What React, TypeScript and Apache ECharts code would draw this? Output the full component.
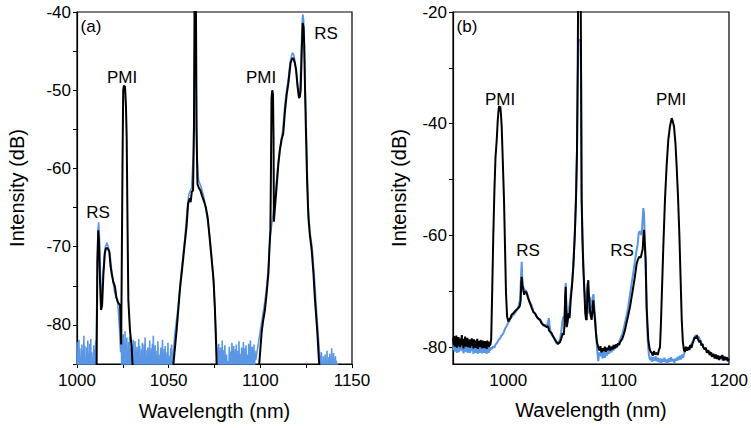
import React, { useEffect, useRef } from "react";
import * as echarts from "echarts";

const FONT = '"Liberation Sans", Arial, sans-serif';
const BLUE = "#5A96E6";
const BLACK = "#000000";

// ---------- axes ----------
const A_X_LABELS = [1000, 1050, 1100, 1150];
const A_X_TICKS = [1000, 1025, 1050, 1075, 1100, 1125, 1150];
const A_Y_LABELS = [-80, -70, -60, -50, -40];
const A_Y_TICKS = [-85, -80, -75, -70, -65, -60, -55, -50, -45, -40];
const B_X_LABELS = [1000, 1100, 1200];
const B_Y_LABELS = [-80, -60, -40, -20];
const B_Y_TICKS = [-80, -70, -60, -50, -40, -30, -20];

// ---------- panel (a) ----------
const A_BLACK = [
  [1010.2, -90], [1010.7, -85], [1011.1, -72], [1011.6, -67.9], [1012, -69.5], [1012.5, -74], [1013.1, -78.1],
  [1013.7, -77.5], [1014.4, -73.5], [1015.2, -70.8], [1015.8, -70.2], [1016.7, -70.2], [1017.6, -70.6],
  [1018.3, -72.5], [1018.9, -73.4], [1019.8, -74.5], [1020.7, -75.1], [1021.5, -76.5], [1022.5, -77.2],
  [1023.5, -77.5], [1024.1, -82.5], [1024.8, -60], [1025.2, -50], [1025.6, -49.4], [1026.2, -49.6],
  [1026.7, -52], [1027.1, -56], [1027.6, -68], [1028, -76.8], [1028.9, -80.7], [1029.8, -82.8], [1030.4, -85.5],
  [1031, -90],
  [1052.3, -90], [1052.6, -85], [1054.4, -80.5], [1056.2, -75.3], [1057.5, -72.5], [1058.5, -70.2],
  [1059.8, -67.3], [1060.6, -64.5], [1061.5, -63.8], [1062, -64.3], [1062.6, -63.0], [1063.3, -62.8],
  [1063.8, -55], [1064.2, -35], [1064.8, -35], [1065.2, -55], [1065.7, -62], [1066.5, -62.5], [1067.3, -62.8],
  [1068.2, -63.5], [1069.3, -64.2], [1070.3, -65], [1071.3, -66.3], [1072.2, -68.5], [1073, -70.5],
  [1073.8, -72.5], [1074.5, -74.3], [1075.2, -77.8], [1075.8, -82], [1076.3, -86], [1077, -90],
  [1099, -90], [1099.4, -85], [1100.7, -81], [1101.5, -79.5], [1102.5, -78.1], [1103.5, -75.8], [1104.4, -73.4],
  [1105, -70], [1105.5, -67.8], [1105.8, -60], [1106.1, -51], [1106.5, -50], [1106.9, -50.5], [1107.2, -56],
  [1107.4, -66.8], [1107.8, -65.5], [1108.9, -62.3], [1109.8, -59.5], [1110.7, -57.6], [1111.6, -56.3],
  [1112.5, -55.5], [1113.5, -52.5], [1114.4, -50.5], [1115.3, -49.1], [1116.5, -46.5], [1117.3, -46],
  [1118, -45.9], [1118.8, -46.5], [1119.5, -47.4], [1120.3, -49.5], [1121.1, -51], [1121.6, -50.8],
  [1122, -50], [1122.6, -45], [1123.1, -41.4], [1123.6, -42], [1123.9, -44], [1124.4, -50], [1124.9, -55.5],
  [1125.5, -61.5], [1126.2, -66.2], [1127, -68.5], [1128, -70.4], [1129, -73.5], [1129.8, -76.8],
  [1130.5, -79], [1131.1, -81], [1131.7, -83.5], [1132.2, -85.3], [1132.8, -90],
];

const A_BLUE_RS = [
  [1010.4, -84], [1010.9, -75], [1011.4, -68], [1011.8, -66.9], [1012.3, -69], [1012.8, -73.5], [1013.4, -76.5],
  [1014, -75], [1014.7, -71.5], [1015.5, -70], [1016.3, -69.5], [1017.2, -70.2], [1018, -71], [1018.9, -73],
  [1019.7, -74.5], [1020.5, -75.8], [1021.4, -76.5], [1022.2, -77.2], [1022.8, -79], [1023.3, -81], [1023.8, -83.5],
];
const A_BLUE_CENTRAL = [
  [1052, -86], [1053.2, -81.5], [1055, -78], [1057, -73], [1058.8, -69], [1060, -65.5], [1061, -63.3],
  [1062.5, -62.5], [1063.5, -58], [1064.2, -45], [1064.8, -45], [1065.4, -58], [1066.3, -61.5], [1067.6, -62.3],
  [1069, -63.5], [1070.5, -65.5], [1071.8, -67.5], [1073, -70], [1074, -73], [1074.8, -76], [1075.6, -80],
  [1076.2, -83],
];
const A_BLUE_RIGHT = [
  [1097.5, -84.5], [1098.5, -83], [1099.5, -81.5], [1100.5, -80], [1101.5, -78.5], [1102.5, -77], [1103.5, -75],
  [1104.4, -72.5], [1105.3, -69], [1106.2, -67.2], [1107.2, -65.5], [1108.3, -63], [1109.3, -60.3],
  [1110.3, -58], [1111.3, -56.5], [1112.3, -55], [1113.3, -52], [1114.3, -50], [1115.3, -48.5], [1116.3, -46.3],
  [1117.5, -45.2], [1118.3, -45.5], [1119.3, -47], [1120.2, -49], [1121, -50.5], [1121.7, -49.5], [1122.3, -45],
  [1122.9, -41], [1123.2, -40.3], [1123.6, -41], [1124, -44], [1124.6, -51], [1125.3, -57], [1126, -64.5],
  [1127, -68], [1128.2, -70], [1129.2, -73], [1130.2, -76.5], [1131, -79.5], [1131.8, -82], [1132.4, -84],
];
// noise-floor peaks (tops) of the blue trace in panel (a)
const A_NOISE_1 = [-82.2, -83.4, -81.9, -83.0, -84.1, -82.5, -83.3, -81.4, -82.7, -84.3, -82.9, -82.0, -83.6,
  -82.4, -81.8, -83.5, -84.2, -82.6, -83.1, -82.0];
const A_NOISE_2 = [-80.5, -82.0, -81.2, -83.5, -80.8, -82.4, -81.6, -83.8, -82.2, -81.5, -83.0, -84.2, -82.6,
  -81.9, -83.3, -82.1, -84.0, -82.8, -83.5, -81.8, -82.7, -84.4, -83.1, -82.3, -83.9, -82.5, -81.6, -83.2,
  -84.1, -82.9, -83.6, -82.0, -84.3, -83.0, -82.4, -81.4, -83.7, -82.6, -84.2, -83.3, -82.1, -83.8, -84.5,
  -82.9, -83.4, -81.9, -84.0, -83.1, -82.7, -84.4, -83.5, -82.3, -83.9, -84.2, -83.0, -82.5];
const A_NOISE_3 = [-83.5, -82.4, -84.1, -82.9, -83.6, -82.0, -84.3, -83.2, -82.6, -84.5, -83.8, -85, -84.6,
  -82.8, -83.4, -84.2, -82.3, -83.9, -82.7, -84.4, -83.1, -82.5, -84.0, -83.3, -82.1, -83.7, -84.6, -82.9,
  -83.5, -82.2, -84.1, -83.0, -82.6, -83.8, -84.3, -82.4, -83.2, -82.0, -83.6, -82.8, -84.0, -82.5, -83.3];
const A_NOISE_4 = [-84.2, -83.5, -84.8, -84.0, -85, -83.8, -84.6, -83.3, -84.9, -84.1, -83.7, -84.5, -83.0,
  -84.3, -83.6, -84.8, -84.0, -84.6, -85];

// ---------- panel (b) ----------
// 950..984 nm, every 0.5 nm
const B_BLACK_FLOOR = [
  -78.3, -79.6, -78.0, -79.9, -78.6, -79.3, -77.9, -80.1, -78.7, -79.5,
  -78.2, -79.8, -78.9, -80.0, -78.4, -79.2, -77.8, -79.7, -78.8, -80.2,
  -78.5, -79.4, -78.1, -79.9, -78.9, -79.6, -78.3, -80.0, -78.7, -79.3,
  -78.6, -80.1, -78.9, -79.8, -78.4, -79.5, -79.0, -80.2, -78.6, -79.7,
  -78.8, -80.1, -79.1, -79.6, -78.5, -80.3, -78.9, -79.9, -79.2, -80.0,
  -78.7, -79.6, -79.0, -80.2, -78.8, -79.8, -79.3, -80.1, -78.9, -79.7,
  -79.1, -80.3, -78.8, -79.9, -79.2, -80.0, -79.0, -79.7, -79.4,
];
const B_BLUE_FLOOR = [
  -79.2, -80.5, -79.0, -80.8, -79.6, -80.1, -79.1, -81.0, -79.7, -80.4,
  -79.3, -80.9, -79.8, -80.6, -79.4, -80.2, -79.0, -80.7, -79.9, -81.1,
  -79.5, -80.3, -79.2, -80.9, -79.8, -80.5, -79.4, -81.0, -79.6, -80.2,
  -79.7, -81.0, -79.9, -80.7, -79.3, -80.5, -80.0, -81.2, -79.6, -80.8,
  -79.8, -81.0, -80.1, -80.6, -79.5, -81.2, -79.9, -80.8, -80.2, -81.0,
  -79.7, -80.6, -80.0, -81.1, -79.8, -80.7, -80.2, -81.0, -79.9, -80.6,
  -80.1, -81.2, -79.8, -80.9, -80.2, -81.0, -80.0, -80.6, -80.3,
];
const B_BLACK = [
  [984.6, -78.5], [985.5, -70], [986.5, -60], [987.5, -52], [988.5, -46], [989.6, -42.9], [990.5, -39.5],
  [991.3, -37.5], [991.8, -36.8], [992.3, -37.8], [992.8, -36.9], [993.4, -38.2], [994.1, -40.5], [995, -46],
  [996.2, -53.6], [997, -61], [998, -70.3], [999, -74.5], [1000.1, -75.4], [1001, -75], [1002, -74.8],
  [1003, -74.2], [1004.6, -73.9], [1006, -73.6], [1007.5, -73.3], [1009.2, -73], [1010.5, -72.6],
  [1011.3, -71.6], [1011.8, -68.5], [1012.2, -67.4], [1012.8, -68.8], [1013.7, -69.8], [1014.5, -70.6],
  [1015.5, -70], [1016.8, -70.3], [1018, -71.2], [1019.7, -72.1], [1021, -72.8], [1022.8, -73.7], [1024.5, -74],
  [1026, -74.6], [1027.5, -74.9], [1028.8, -75.1], [1030.5, -75.8], [1032, -76], [1033.5, -76.2], [1034.9, -76.4],
  [1036, -76.2], [1037, -77], [1038, -77.2], [1039.4, -77.5], [1040.5, -78], [1042, -78.5], [1043.9, -79.1],
  [1045, -79.4], [1046.9, -79.1], [1048, -78.5], [1049.4, -77.5], [1050.3, -77.8], [1051, -76], [1051.6, -71],
  [1052.1, -69.2], [1052.6, -73], [1053, -76.4], [1053.8, -75.5], [1054.8, -73.9], [1055.6, -74.8],
  [1056.6, -71.6], [1057.8, -69], [1059, -65.6], [1060.3, -60], [1061.4, -53.6], [1062.3, -45], [1063, -30],
  [1063.5, -10], [1065.5, -10], [1066, -30], [1066.5, -53.6], [1067.3, -61], [1068, -65.6], [1069, -70],
  [1069.8, -73.9], [1070.5, -75], [1071.1, -75.1], [1071.8, -70], [1072.5, -68], [1073.2, -71], [1074.1, -73.4],
  [1074.8, -74.5], [1075.6, -75.1], [1076.4, -73], [1077.1, -71.6], [1077.8, -73.5], [1078.6, -75.1],
  [1079.5, -77.5], [1080.5, -79.2], [1081.6, -80], [1082.5, -80.6], [1083.5, -79.8], [1084.5, -80.9],
  [1085.5, -80.2], [1086.5, -80.7], [1087.5, -79.9], [1088.5, -80.8], [1089.5, -80.1], [1090.5, -80.5],
  [1091.5, -79.7], [1092.5, -80.6], [1093.5, -79.9], [1094.5, -80.4], [1095.5, -79.6], [1096.5, -80.2],
  [1097.5, -79.5], [1098.5, -80], [1099.5, -79.3], [1100.5, -79.6], [1101.3, -79.1], [1102.3, -78.8],
  [1103.3, -78.5], [1104.5, -77.8], [1105.8, -76.9], [1107, -75.8], [1108.5, -74.5], [1110.3, -72.8],
  [1111.8, -71], [1113.3, -69.2], [1114.8, -67.3], [1116.4, -65], [1117.5, -64.3], [1118.8, -63.8], [1120, -64],
  [1120.9, -63.2], [1121.8, -62.5], [1122.5, -60], [1123, -59], [1123.6, -61], [1124.5, -64.4], [1125.4, -72.8],
  [1126.2, -76], [1126.9, -78.7], [1128, -80.2], [1129, -80.8], [1130, -81], [1131, -81.5], [1132, -80.7],
  [1133, -81.3], [1134.5, -81], [1135.5, -81.4], [1136.5, -80.5], [1137.5, -80], [1138.3, -76], [1139, -71.6],
  [1140.5, -62], [1142, -53.6], [1143.5, -47.5], [1145, -42.9], [1146.5, -40.5], [1148.1, -39], [1149, -39.5],
  [1150.2, -40.5], [1151.5, -43.5], [1152.6, -47.7], [1153.8, -53], [1155, -59.6], [1156.2, -68], [1157.2, -75.1],
  [1158.2, -79], [1159.2, -80.5], [1160, -80.8], [1161, -79.9], [1162, -80.6], [1163.1, -80], [1164, -80.5],
  [1165, -79.6], [1166, -80.1], [1167.1, -79.3], [1168, -78.8], [1169, -78.2], [1170.1, -78.4], [1171, -77.9],
  [1172, -78.6], [1173.1, -79.1], [1174, -78.8], [1175, -79.7], [1176, -79.4], [1176.7, -80], [1178, -80.4],
  [1179, -80.1], [1180, -81], [1181.3, -80.6], [1182.5, -81.4], [1183.5, -80.9], [1184.5, -81.7], [1185.8, -81.2],
  [1187, -82], [1188, -81.3], [1189, -82.1], [1190, -81.5], [1191, -82.3], [1192, -81.6], [1193, -82],
  [1194, -81.4], [1195, -82.4], [1196, -81.7], [1197, -82.2], [1198, -81.8], [1199, -82.5], [1200, -82],
];
const B_BLUE = [
  [984.5, -80.0], [985.5, -80.3], [986.5, -79.8], [987.5, -80.1], [988.5, -79.5], [989.6, -79.3], [990.5, -79],
  [991.5, -78.6], [992.5, -78.5], [993.5, -78], [994.5, -77.8], [995.6, -77.5], [996.6, -77], [997.6, -76.5],
  [998.6, -76.2], [999.6, -75.8], [1001.6, -75.1], [1003, -74.6], [1004.5, -74.3], [1006, -73.9], [1007.7, -73.4],
  [1009.2, -72.8], [1010.7, -71.6], [1011.5, -68], [1012.2, -64.7], [1012.7, -67.5], [1013.4, -69], [1014.2, -69.5],
  [1015.3, -69.8], [1016.5, -70], [1018, -71], [1019.7, -72], [1021.2, -72.5], [1022.8, -73.6], [1024.3, -74],
  [1025.8, -74.5], [1027.3, -75], [1028.8, -75], [1030.3, -75.5], [1032, -76.2], [1033.5, -76], [1034.9, -76.3],
  [1036, -75.6], [1036.8, -74.8], [1037.5, -76.2], [1038.5, -77.5], [1039.5, -77.8], [1041, -78.2], [1042.5, -78.8],
  [1044, -79.4], [1045.5, -79.2], [1047, -78.5], [1048, -77.3], [1049, -75.5], [1050, -74.5], [1051, -74.8],
  [1051.6, -71], [1052.1, -68.5], [1052.6, -72], [1053.2, -75], [1054, -74.6], [1055, -73.2], [1055.8, -72],
  [1056.6, -70.5], [1057.8, -68.5], [1059, -65], [1060.3, -60], [1061.4, -53], [1062.3, -45], [1063, -32],
  [1063.5, -25], [1065.5, -25], [1066, -32], [1066.5, -52], [1067.3, -60], [1068, -64.5], [1069, -69.5],
  [1069.8, -72], [1070.5, -72.5], [1071.2, -70.5], [1071.8, -68.5], [1072.6, -71], [1073.3, -74], [1074, -71],
  [1074.8, -72.5], [1075.6, -73], [1076.4, -71.2], [1077.2, -70.5], [1077.9, -72.5], [1078.7, -74.5],
  [1079.6, -77.5], [1080.6, -80.5], [1081.6, -82.5], [1082.5, -80.9], [1083.5, -81.6], [1084.5, -80.4],
  [1085.5, -82], [1086.5, -80.8], [1087.5, -81.9], [1088.5, -80.6], [1089.5, -81.5], [1090.5, -80.3],
  [1091.5, -81.2], [1092.5, -80.1], [1093.5, -80.9], [1094.5, -79.8], [1095.5, -80.6], [1096.5, -79.7],
  [1097.5, -80.2], [1098.5, -79.4], [1099.5, -79.8], [1100.5, -79], [1101.5, -78.6], [1102.5, -78],
  [1103.5, -77.6], [1104.5, -76.8], [1105.8, -75.6], [1107, -74.5], [1108.5, -73], [1110, -71], [1111.5, -69],
  [1113, -67], [1114.5, -65], [1116, -63], [1117.3, -61.5], [1118.2, -59.6], [1119.2, -59.2], [1120.3, -59.9],
  [1121, -59.5], [1121.8, -57], [1122.4, -55.1], [1123, -56], [1123.6, -59.5], [1124.3, -64], [1125, -70],
  [1125.8, -76], [1126.6, -79.5], [1127.5, -81.5], [1128.5, -82.3], [1129.5, -81.7], [1130.5, -82.6],
  [1131.5, -81.8], [1132.5, -82.4], [1133.5, -81.6], [1134.5, -82.5], [1135.5, -81.9], [1136.5, -82.7],
  [1137.5, -82], [1138.5, -82.8], [1139.5, -82.1], [1140.5, -82.6], [1141.5, -81.9], [1142.5, -82.7],
  [1143.5, -82.2], [1144.5, -82.9], [1145.5, -82], [1146.5, -82.6], [1147.5, -81.8], [1148.5, -82.5],
  [1149.5, -82.1], [1150.5, -82.8], [1151.5, -82], [1152.5, -82.4], [1153.5, -81.7], [1154.5, -82.3],
  [1155.5, -81.5], [1156.5, -82.2], [1157.5, -81.3], [1158.5, -81.9], [1159.5, -81], [1160.5, -80.6],
  [1161.5, -80.2], [1162.5, -80.5], [1163.5, -79.9], [1164.5, -80.3], [1165.5, -79.6], [1166.5, -79.2],
  [1167.5, -78.8], [1168.5, -78.3], [1169.5, -78], [1170.5, -77.8], [1171.5, -78.2], [1172.5, -78.1],
  [1173.5, -78.6], [1174.5, -79], [1175.5, -79.4], [1176.5, -79.8], [1177.5, -80.3], [1178.5, -80.1],
  [1179.5, -80.7], [1180.5, -80.4], [1181.5, -81], [1182.5, -80.7], [1183.5, -81.3], [1184.5, -81],
  [1185.5, -81.6], [1186.5, -81.2], [1187.5, -81.8], [1188.5, -81.4], [1189.5, -82], [1190.5, -81.5],
  [1191.5, -82.1], [1192.5, -81.6], [1193.5, -82.3], [1194.5, -81.7], [1195.5, -82.2], [1196.5, -81.8],
  [1197.5, -82.4], [1198.5, -81.9], [1199.5, -82.5],
];

// ---------- helpers ----------
function noiseTrace(from: number, to: number, tops: number[]) {
  const out: number[][] = [];
  const step = (to - from) / (tops.length - 1);
  tops.forEach((t, i) => {
    const x = from + i * step;
    out.push([x, t]);
    if (i < tops.length - 1) out.push([x + step / 2, -88]);
  });
  return out;
}
function floorTrace(start: number, step: number, vals: number[]) {
  return vals.map((v, i) => [start + i * step, v]);
}

function buildOption() {
  const aBlue = [
    ...noiseTrace(1000, 1010.2, A_NOISE_1),
    ...A_BLUE_RS,
    ...noiseTrace(1024.2, 1051.6, A_NOISE_2),
    ...A_BLUE_CENTRAL,
    ...noiseTrace(1076.8, 1097, A_NOISE_3),
    ...A_BLUE_RIGHT,
    ...noiseTrace(1132.8, 1142, A_NOISE_4),
    [1142.5, -90],
    [1150, -90],
  ];
  const bBlack = [...floorTrace(950, 0.5, B_BLACK_FLOOR), ...B_BLACK];
  const bBlue = [...floorTrace(950, 0.5, B_BLUE_FLOOR), ...B_BLUE];

  const plain = (v: number) => String(v);
  const tickLabel = { fontSize: 17, fontFamily: FONT, color: "#000", formatter: plain };
  const nameStyle = { fontSize: 20, fontFamily: FONT, color: "#000" };
  const axLine = { show: true, lineStyle: { color: "#000", width: 1.2 } };

  const text = (t: string, x: number, y: number, size = 17) => ({
    type: "text",
    x,
    y,
    style: {
      text: t,
      fill: "#000",
      font: `${size}px ${FONT}`,
      align: "center",
      verticalAlign: "middle",
      textAlign: "center",
      textVerticalAlign: "middle",
    },
    z: 100,
  });

  return {
    animation: false,
    backgroundColor: "#fff",
    grid: [
      { left: 77, top: 12, width: 275, height: 352, show: true, borderColor: "#000", borderWidth: 1.2, backgroundColor: "transparent" },
      { left: 453, top: 12, width: 276, height: 352, show: true, borderColor: "#000", borderWidth: 1.2, backgroundColor: "transparent" },
    ],
    xAxis: [
      {
        type: "value", gridIndex: 0, min: 1000, max: 1150,
        name: "Wavelength (nm)", nameLocation: "middle", nameGap: 37, nameTextStyle: nameStyle,
        axisLine: axLine,
        axisTick: { show: true, inside: false, length: 4, customValues: A_X_TICKS, lineStyle: { color: "#000" } },
        axisLabel: { ...tickLabel, margin: 8, customValues: A_X_LABELS },
        splitLine: { show: false },
      },
      {
        type: "value", gridIndex: 1, min: 950, max: 1200,
        name: "Wavelength (nm)", nameLocation: "middle", nameGap: 36, nameTextStyle: nameStyle,
        axisLine: axLine,
        axisTick: { show: false },
        axisLabel: { ...tickLabel, margin: 8, customValues: B_X_LABELS },
        splitLine: { show: false },
      },
    ],
    yAxis: [
      {
        type: "value", gridIndex: 0, min: -85, max: -40,
        name: "Intensity (dB)", nameLocation: "middle", nameGap: 50, nameTextStyle: nameStyle,
        axisLine: axLine,
        axisTick: { show: true, inside: false, length: 4, customValues: A_Y_TICKS, lineStyle: { color: "#000" } },
        axisLabel: { ...tickLabel, margin: 6, customValues: A_Y_LABELS },
        splitLine: { show: false },
      },
      {
        type: "value", gridIndex: 1, min: -83, max: -20,
        name: "Intensity (dB)", nameLocation: "middle", nameGap: 44, nameTextStyle: nameStyle,
        axisLine: axLine,
        axisTick: { show: true, inside: false, length: 4, customValues: B_Y_TICKS, lineStyle: { color: "#000" } },
        axisLabel: { ...tickLabel, margin: 6, customValues: B_Y_LABELS },
        splitLine: { show: false },
      },
    ],
    series: [
      {
        type: "line", xAxisIndex: 0, yAxisIndex: 0, data: aBlue, showSymbol: false, clip: true,
        lineStyle: { color: BLUE, width: 1.6 }, z: 2, silent: true,
      },
      {
        type: "line", xAxisIndex: 0, yAxisIndex: 0, data: A_BLACK, showSymbol: false, clip: true,
        lineStyle: { color: BLACK, width: 2 }, z: 3, silent: true,
      },
      {
        type: "line", xAxisIndex: 1, yAxisIndex: 1, data: bBlue, showSymbol: false, clip: true,
        lineStyle: { color: BLUE, width: 2 }, z: 2, silent: true,
      },
      {
        type: "line", xAxisIndex: 1, yAxisIndex: 1, data: bBlack, showSymbol: false, clip: true,
        lineStyle: { color: BLACK, width: 2 }, z: 3, silent: true,
      },
    ],
    graphic: [
      text("(a)", 91, 26, 17),
      text("PMI", 122, 77),
      text("RS", 98, 212),
      text("PMI", 261, 77),
      text("RS", 326, 33),
      text("(b)", 467, 26, 17),
      text("PMI", 500, 99),
      text("RS", 528, 250),
      text("RS", 622, 250),
      text("PMI", 671, 99),
    ],
  };
}

export default function App() {
  const ref = useRef<HTMLDivElement | null>(null);
  useEffect(() => {
    if (!ref.current) return;
    const chart = echarts.init(ref.current, undefined, { renderer: "svg" });
    chart.setOption(buildOption() as any);
    return () => chart.dispose();
  }, []);
  return (
    <div
      ref={ref}
      style={{ position: "fixed", left: 0, top: 0, width: 751, height: 428, background: "#fff" }}
    />
  );
}
